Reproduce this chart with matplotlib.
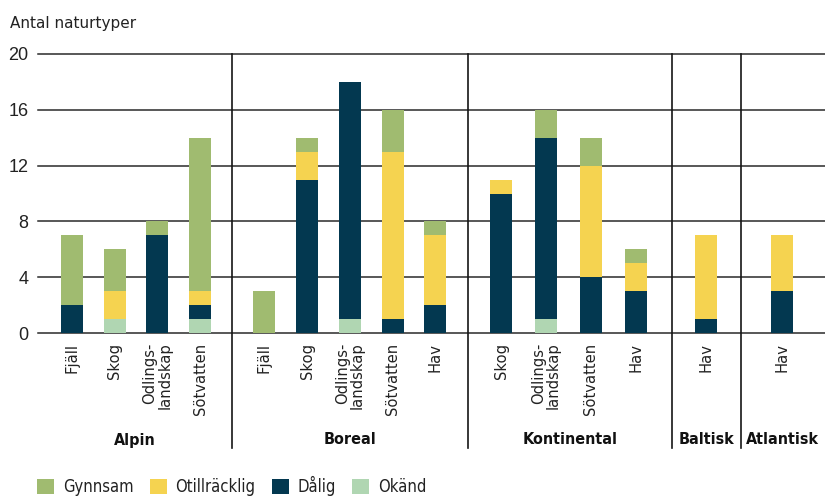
import matplotlib
matplotlib.use("Agg")
import matplotlib.pyplot as plt
from matplotlib import font_manager
from matplotlib.font_manager import FontProperties
from matplotlib.patches import Patch
from matplotlib.transforms import blended_transform_factory
import numpy as np

# ---------------- data ----------------
groups = ["Alpin", "Boreal", "Kontinental", "Baltisk", "Atlantisk"]
alpin_types = ["Fjäll", "Skog", "Odlings-\nlandskap", "Sötvatten"]
boreal_types = ["Fjäll", "Skog", "Odlings-\nlandskap", "Sötvatten", "Hav"]
kontinental_types = ["Skog", "Odlings-\nlandskap", "Sötvatten", "Hav"]
baltisk_types = ["Hav"]
atlantisk_types = ["Hav"]
group_types = [alpin_types, boreal_types, kontinental_types, baltisk_types, atlantisk_types]

okand = [0, 1, 0, 1, 0, 0, 1, 0, 0, 0, 1, 0, 0, 0, 0]
dalig = [2, 0, 7, 1, 0, 11, 17, 1, 2, 10, 13, 4, 3, 1, 3]
otillracklig = [0, 2, 0, 1, 0, 2, 0, 12, 5, 1, 0, 8, 2, 6, 4]
gynnsam = [5, 3, 1, 11, 3, 1, 0, 3, 1, 0, 2, 2, 1, 0, 0]

series_names = ["Gynnsam", "Otillräcklig", "Dålig", "Okänd"]
yticks = [0, 4, 8, 12, 16, 20]

# ---------------- style ----------------
colors = {"Gynnsam": "#a0bb70", "Otillräcklig": "#f5d350",
          "Dålig": "#033850", "Okänd": "#b0d6b2"}
TXT = "#222222"


def _w(f):
    w = f.weight
    if isinstance(w, str):
        return 700 if "bold" in w.lower() else 400
    return int(w)


def condensed_font(bold):
    best = None
    for f in font_manager.fontManager.ttflist:
        narrow = (str(f.stretch) in ("condensed", "semi-condensed", "extra-condensed")
                  or "Narrow" in f.name or "Condensed" in f.name)
        if not narrow or str(f.style) != "normal":
            continue
        w = _w(f)
        if (w >= 600) == bold:
            best = f
            if "DejaVu" in f.name or "Liberation" in f.name:
                break
    if best is None:
        return FontProperties(family="DejaVu Sans", weight="bold" if bold else "normal")
    return FontProperties(fname=best.fname)


W, H = 825, 497
fig = plt.figure(figsize=(W / 100, H / 100), dpi=100)
renderer = fig.canvas.get_renderer()


def fit_size(s, prop, target_px):
    p = prop.copy()
    p.set_size(10)
    t = fig.text(0, 0, s, fontproperties=p)
    w = t.get_window_extent(renderer).width
    t.remove()
    return 10 * target_px / w


bold_prop = condensed_font(True)
leg_prop = condensed_font(False)
bold_prop.set_size(fit_size("Kontinental", bold_prop, 94))
leg_prop.set_size(fit_size("Otillräcklig", leg_prop, 80))

ax_left, ax_right, ax_top, ax_bottom = 38, 825, 54, 333
ax = fig.add_axes([ax_left / W, 1 - ax_bottom / H, (ax_right - ax_left) / W,
                   (ax_bottom - ax_top) / H])

# layout of bar positions
group_offset = [0, 4.5, 10.04, 14.83, 16.61]
group_step = [1, 1, 1.048, 1, 1]
separators = [3.75, 9.256, 14.028, 15.642]
xlim = (-0.795, 17.614)
bar_w = 0.515

x = []
labels = []
for off, step, types in zip(group_offset, group_step, group_types):
    for i, t in enumerate(types):
        x.append(off + i * step)
        labels.append(t)
x = np.array(x)

bottom = np.zeros(len(x))
stack = [("Okänd", okand), ("Dålig", dalig), ("Otillräcklig", otillracklig),
         ("Gynnsam", gynnsam)]
for name, vals in stack:
    v = np.array(vals, dtype=float)
    ax.bar(x, v, width=bar_w, bottom=bottom, color=colors[name],
           linewidth=0, zorder=2)
    bottom += v

ax.set_xlim(*xlim)
ax.set_ylim(0, 20)
for v in yticks:
    ax.axhline(v, color="#2a2a2a", lw=1.1, zorder=1, clip_on=False)
ax.set_yticks(yticks)
ax.set_yticklabels([str(v) for v in yticks], family="Liberation Sans",
                   fontsize=13, color=TXT)
ax.tick_params(axis="y", length=0, pad=7)
ax.set_xticks(x)
ax.set_xticklabels(labels, rotation=90, va="top", ha="center",
                   multialignment="right", linespacing=1.0, fontsize=10.6,
                   family="DejaVu Sans", color=TXT)
ax.tick_params(axis="x", length=0, pad=7)
for s in ax.spines.values():
    s.set_visible(False)

ax_h = ax_bottom - ax_top
sep_bottom = (ax_bottom - 448) / ax_h
for s in separators:
    ax.axvline(s, ymin=sep_bottom, ymax=1, color="#151515", lw=1.2,
               clip_on=False, zorder=3)

bounds = [xlim[0]] + separators + [xlim[1]]
trans = blended_transform_factory(ax.transData, ax.transAxes)
for i, g in enumerate(groups):
    c = (bounds[i] + bounds[i + 1]) / 2
    ax.text(c, (ax_bottom - 440) / ax_h, g, transform=trans, ha="center",
            va="center", fontproperties=bold_prop, color="#111111")

fig.text(10 / W, 1 - 28.3 / H, "Antal naturtyper", family="DejaVu Sans",
         fontsize=11, color=TXT, va="baseline", ha="left")

fs_px = leg_prop.get_size_in_points() * 100 / 72
handles = [Patch(facecolor=colors[n], edgecolor="none") for n in series_names]
fig.legend(handles, series_names, loc="center left",
           bbox_to_anchor=(37 / W, 1 - 486 / H), ncol=4, frameon=False,
           prop=leg_prop, handlelength=17 / fs_px, handleheight=16 / fs_px,
           handletextpad=9 / fs_px, columnspacing=16 / fs_px, borderpad=0,
           borderaxespad=0, labelcolor=TXT)

fig.savefig("out.png", dpi=100)
